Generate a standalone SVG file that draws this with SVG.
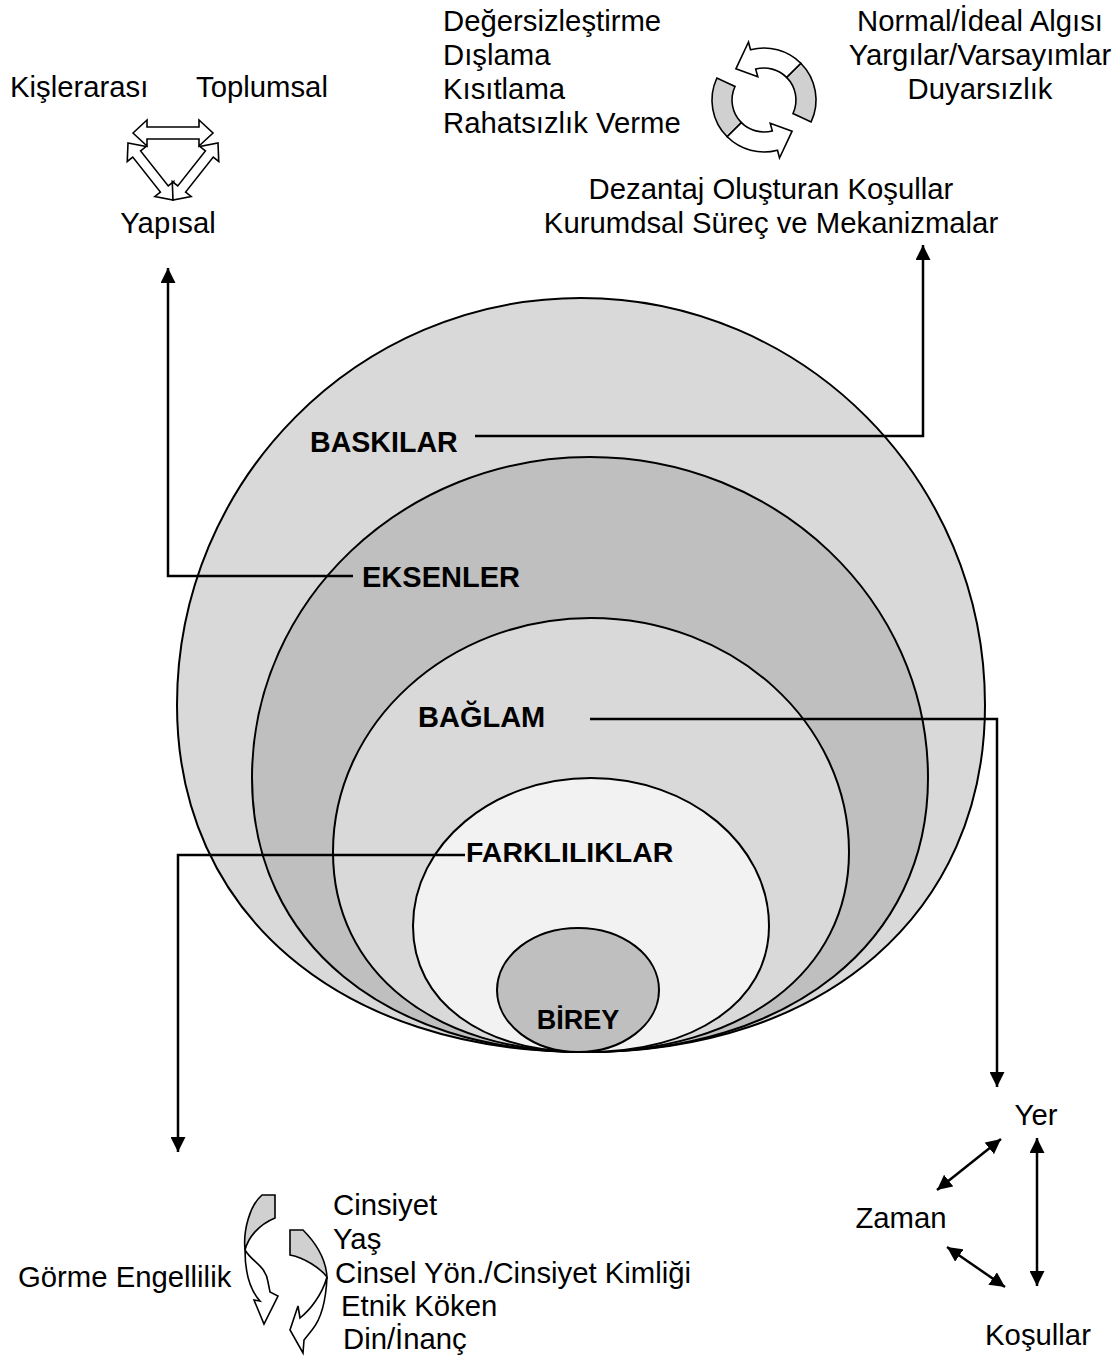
<svg xmlns="http://www.w3.org/2000/svg" width="1116" height="1358" viewBox="0 0 1116 1358">
<defs>
<style>
.t{font-family:"Liberation Sans",Arial,sans-serif;font-size:29.3px;fill:#000}
.b{font-family:"Liberation Sans",Arial,sans-serif;font-size:29px;font-weight:bold;fill:#000}
.ring{stroke:#000;stroke-width:2}
.conn{fill:none;stroke:#000;stroke-width:2.5}
.blk{fill:#fff;stroke:#000;stroke-width:1.6;stroke-linejoin:miter}
.gry{fill:#d0d0d0;stroke:#000;stroke-width:1.6}
</style>
<marker id="ah" viewBox="0 0 10 10" refX="10" refY="5" markerWidth="6" markerHeight="6" orient="auto-start-reverse" markerUnits="strokeWidth">
<path d="M0,0 L10,5 L0,10 Z" fill="#000"/>
</marker>
</defs>
<rect width="1116" height="1358" fill="#fff"/>

<g id="baskilar">
<path class="ring" fill="#d9d9d9" d="M177,705 C177,480 358,298 581,298 C804,298 985,480 985,705 C985,913 825,1052 585,1052 C340,1052 177,913 177,705 Z"/>
<text class="b" x="310" y="452" style="font-size:28.6px">BASKILAR</text>
</g>
<g id="eksenler">
<path class="ring" fill="#bfbfbf" d="M252,778 C252,601 403,457 590,457 C777,457 928,601 928,778 C928,942 791,1052 585,1052 C385,1052 252,942 252,778 Z"/>
<text class="b" x="362" y="587">EKSENLER</text>
</g>
<g id="baglam">
<path class="ring" fill="#d9d9d9" d="M333,852 C333,723 448.5,618 591,618 C733.5,618 849,723 849,852 C849,972 743,1052 585,1052 C434,1052 333,972 333,852 Z"/>
<text class="b" x="418" y="727">BAĞLAM</text>
</g>
<g id="farkliliklar">
<path class="ring" fill="#f2f2f2" d="M413,926 C413,844.3 492.7,778 591,778 C689.3,778 769,844.3 769,926 C769,1002 695,1052 585,1052 C482,1052 413,1002 413,926 Z"/>
<text class="b" x="466" y="862" style="font-size:28.5px">FARKLILIKLAR</text>
</g>
<g id="birey">
<ellipse class="ring" cx="578" cy="990" rx="81" ry="62" fill="#bfbfbf"/>
<text class="b" x="578" y="1029" text-anchor="middle" style="font-size:27px">BİREY</text>
</g>

<g id="connectors">
<polyline class="conn" points="475,436 923,436 923,245" marker-end="url(#ah)"/>
<polyline class="conn" points="353,576 168,576 168,268" marker-end="url(#ah)"/>
<polyline class="conn" points="590,719 997,719 997,1087" marker-end="url(#ah)"/>
<polyline class="conn" points="465,855 178,855 178,1152" marker-end="url(#ah)"/>
<line class="conn" x1="1037" y1="1138" x2="1037" y2="1286" marker-start="url(#ah)" marker-end="url(#ah)"/>
<line class="conn" x1="937" y1="1190" x2="1001" y2="1139" marker-start="url(#ah)" marker-end="url(#ah)"/>
<line class="conn" x1="947" y1="1247" x2="1005" y2="1287" marker-start="url(#ah)" marker-end="url(#ah)"/>
</g>

<g id="eksen-turleri">
<text class="t" x="10" y="97">Kişlerarası</text>
<text class="t" x="196" y="97">Toplumsal</text>
<text class="t" x="168" y="233" text-anchor="middle">Yapısal</text>
<path class="blk" d="M0,0 L14,-13 L14,-6 L66,-6 L66,-13 L80,0 L66,13 L66,6 L14,6 L14,13 Z" transform="translate(133,133)"/>
<path class="blk" d="M0,0 L14,-12 L14,-5 L58.6,-5 L58.6,-12 L72.6,0 L58.6,12 L58.6,5 L14,5 L14,12 Z" transform="translate(128,143) rotate(51.7)"/>
<path class="blk" d="M0,0 L14,-12 L14,-5 L58.6,-5 L58.6,-12 L72.6,0 L58.6,12 L58.6,5 L14,5 L14,12 Z" transform="translate(218,143) rotate(128.3)"/>
</g>

<g id="baski-turleri">
<text class="t" x="443" y="31">Değersizleştirme</text>
<text class="t" x="443" y="65">Dışlama</text>
<text class="t" x="443" y="99">Kısıtlama</text>
<text class="t" x="443" y="133">Rahatsızlık Verme</text>
<text class="t" x="980" y="31" text-anchor="middle">Normal/İdeal Algısı</text>
<text class="t" x="980" y="65" text-anchor="middle">Yargılar/Varsayımlar</text>
<text class="t" x="980" y="99" text-anchor="middle">Duyarsızlık</text>
<text class="t" x="771" y="199" text-anchor="middle">Dezantaj Oluşturan Koşullar</text>
<text class="t" x="771" y="233" text-anchor="middle">Kurumdsal Süreç ve Mekanizmalar</text>
<g id="cycle-top">
<path class="gry" d="M811.1,122 A52,52 0 0 0 800.8,63.2 L786.6,77.4 A32,32 0 0 1 793,113.5 Z"/>
<path class="blk" d="M800.8,63.2 A52,52 0 0 0 750.5,49.8 L748.5,42 L735.9,68.8 L757.8,76.8 L755.7,69.1 A32,32 0 0 1 786.6,77.4 Z"/>
</g>
<g id="cycle-bottom" transform="rotate(180 764 100)">
<path class="gry" d="M811.1,122 A52,52 0 0 0 800.8,63.2 L786.6,77.4 A32,32 0 0 1 793,113.5 Z"/>
<path class="blk" d="M800.8,63.2 A52,52 0 0 0 750.5,49.8 L748.5,42 L735.9,68.8 L757.8,76.8 L755.7,69.1 A32,32 0 0 1 786.6,77.4 Z"/>
</g>
</g>

<g id="farklilik-turleri">
<text class="t" x="18" y="1287">Görme Engellilik</text>
<text class="t" x="333" y="1215">Cinsiyet</text>
<text class="t" x="333" y="1249">Yaş</text>
<text class="t" x="335" y="1283">Cinsel Yön./Cinsiyet Kimliği</text>
<text class="t" x="341" y="1316">Etnik Köken</text>
<text class="t" x="343" y="1349">Din/İnanç</text>
<path class="gry" d="M262,1195 L275,1195 L275,1218 C258,1225 248,1238 245,1250 C243,1230 250,1205 262,1195 Z"/>
<path class="blk" d="M245,1250 C252,1262 266,1266 268,1282 L270,1292 L278,1296 L264,1324 L254,1300 L260,1301 C250,1290 245,1272 245,1250 Z"/>
<path class="gry" d="M290,1230 L303,1230 C318,1245 326,1262 327,1277 C320,1268 305,1258 290,1255 Z"/>
<path class="blk" d="M327,1277 C326,1300 322,1318 312,1330 L304,1340 L303,1353 L290,1330 L298,1306 L300,1318 C310,1310 322,1295 327,1277 Z"/>
</g>

<g id="baglam-turleri">
<text class="t" x="1036" y="1125" text-anchor="middle">Yer</text>
<text class="t" x="901" y="1228" text-anchor="middle">Zaman</text>
<text class="t" x="1038" y="1345" text-anchor="middle">Koşullar</text>
</g>
</svg>
